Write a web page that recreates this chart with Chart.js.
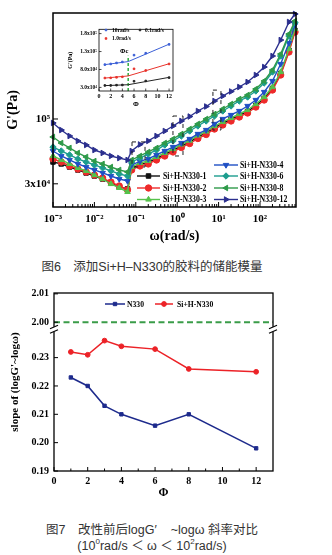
<!DOCTYPE html>
<html><head><meta charset="utf-8">
<script src="https://cdn.jsdelivr.net/npm/chart.js@4/dist/chart.umd.min.js"></script>
<style>
body{margin:0;background:#fff;width:332px;height:555px;overflow:hidden;position:relative}
canvas{position:absolute}
#c1{left:0;top:0;width:332px;height:245px}
#cin{left:62px;top:24px;width:116px;height:86px}
#c2{left:0;top:280px;width:332px;height:222px}
.cap{position:absolute;left:0;width:304px;text-align:center;font-family:'Liberation Sans','Noto Sans CJK SC',sans-serif;color:#333;font-size:12.5px;line-height:16px;white-space:nowrap}
.cap sup{font-size:8px;vertical-align:6px;line-height:0}
</style></head><body>
<canvas id="c1" width="332" height="245"></canvas>
<canvas id="cin" width="116" height="86"></canvas>
<div class="cap" style="top:259px">图6　添加Si+H–N330的胶料的储能模量</div>
<canvas id="c2" width="332" height="222"></canvas>
<div class="cap" style="top:522px">图7　改性前后logG′&nbsp;&nbsp;&nbsp;&nbsp;~logω 斜率对比</div>
<div class="cap" style="top:538px">(10<sup>0</sup>rad/s ＜ ω ＜ 10<sup>2</sup>rad/s)</div>
<script>
// ---------- Figure 6 data: storage modulus G' (Pa) vs angular frequency ----------
const omega = [0.001,0.00158,0.00251,0.00398,0.00631,0.01,0.0158,0.0251,0.0398,0.0631,
  0.0794,0.126,0.2,0.316,0.501,0.794,1.26,2,3.16,5.01,7.94,12.6,20,31.6,50.1,79.4,126,200,316,501,700];
const g1 = [45000,43400,41000,38800,36700,34700,32800,30500,28300,27300,
  39900,43000,44600,48000,51700,55700,60600,65200,71600,77100,85300,92000,99100,106700,115000,128400,146300,176200,232800,357000,517000];
const g2 = [47600,45000,41800,39500,37400,35300,33400,31000,28800,26800,
  38800,41800,43400,46700,50300,54200,58900,63400,69600,75000,83000,89500,96400,103800,111800,124900,142300,171300,226400,347000,503000];
const g3 = [50300,46700,43400,40300,38100,35300,32800,29900,27800,25800,
  41000,44200,45900,49400,53200,57300,62300,67000,73600,79300,87700,94600,101900,109700,118200,132000,150400,181100,239300,367000,532000];
const g4 = [55200,50300,46700,43400,41000,38800,36700,34700,32800,31600,
  42600,45500,47600,51300,55200,59400,64000,69000,75700,81500,91200,100000,107700,116000,127300,142300,165100,202500,277700,410000,573000];
const g6 = [59400,55200,51300,47600,45000,42600,40300,38100,36000,34700,
  45000,48400,52200,56200,61700,66500,72900,80000,87800,96400,105700,116000,127300,139700,150400,168200,195100,239300,322100,467000,600000];
const g8 = [71600,64000,58400,53200,49400,45800,43400,41000,38800,37400,
  46700,50300,54200,58400,64000,69000,75700,83000,91200,100000,109700,120400,132100,144900,156100,174600,202500,248400,334300,484600,617000];
const g12 = [92900,81500,72900,66500,61700,56200,53200,50300,48400,46700,
  55200,62300,66500,72900,80000,87800,96400,104700,116000,126100,139700,153300,166700,181100,198800,226400,262600,322100,433500,605800,703000];
const mainXTicks = [0.001,0.01,0.1,1,10,100];
const mainYTicks = [30000,100000];
// dashed highlight boxes [ωmin, ωmax, G'min, G'max]
const highlightBoxes = [[0.081,0.167,41000,65300],[0.79,1.38,50300,105700],[7.3,11.4,81500,171000]];

// ---------- inset: G' vs filler fraction at three frequencies ----------
const insetPhi = [1,2,3,4,6,8,12];
const inset10 = [93500,95400,98200,100900,120000,125400,150000];
const inset1 = [56200,56700,58100,59500,81800,77200,95400];
const inset01 = [35500,35500,36300,36800,47200,48000,57300];
const fitPhi = [1,5,12];
const fit10 = [93500,102000,150500];
const fit1 = [56000,62000,96000];
const fit01 = [35000,37500,58000];
const phiC = 5, phiCLine = [20000,118000];
const insetYTicks = [30000,80000,130000,180000];
const insetXTicks = [0,2,4,6,8,10,12];

// ---------- Figure 7 data: slope of logG'~logω ----------
const phi = [1,2,3,4,6,8,12];
const slopeN330 = [0.223,0.220,0.213,0.210,0.206,0.210,0.198];
const slopeSiH  = [0.232,0.231,0.236,0.234,0.233,0.226,0.225];
const refSlope = 2.00;
const slopeTicks = [0.19,0.20,0.21,0.22,0.23,2.00,2.01];
const phiTicks = [0,2,4,6,8,10,12];

// broken y axis: lower segment up to breakLow, upper segment starts at breakHigh
const breakLow = 0.24, breakHigh = 1.9975, upperTop = 2.0103;
const brk = v => v <= breakLow ? v : breakLow + (v - breakHigh);
const unbrk = d => d <= breakLow + 1e-9 ? d : d - breakLow + breakHigh;

const pts = (xs, ys, f) => xs.map((x,i)=>({x, y: f ? f(ys[i]) : ys[i]}));
const SUP = {'-':'⁻','0':'⁰','1':'¹','2':'²','3':'³','4':'⁴','5':'⁵','6':'⁶','7':'⁷','8':'⁸','9':'⁹'};
const sup = n => String(n).split('').map(c=>SUP[c]).join('');
const SERIF = "'Liberation Serif','Times New Roman',serif";
Chart.defaults.font.family = SERIF;
Chart.defaults.font.weight = 'bold';
Chart.defaults.color = '#000';
const noGrid = {display:false, drawTicks:false, tickLength:0};

const framePlugin = {
  id:'frame',
  afterDatasetsDraw(chart, args, o){
    const {ctx, chartArea:a} = chart;
    const xs = chart.scales.x, ys = chart.scales.y;
    ctx.save();
    ctx.strokeStyle = '#000';
    const ln = (x1,y1,x2,y2)=>{ctx.beginPath();ctx.moveTo(x1,y1);ctx.lineTo(x2,y2);ctx.stroke();};
    if (o.boxes){
      ctx.save(); ctx.strokeStyle='#222'; ctx.lineWidth=1; ctx.setLineDash([4,5]);
      o.boxes.forEach(b=>{
        const x1=xs.getPixelForValue(b[0]), x2=xs.getPixelForValue(b[1]);
        const y1=ys.getPixelForValue(b[3]), y2=ys.getPixelForValue(b[2]);
        ctx.strokeRect(x1,y1,x2-x1,y2-y1);
      });
      ctx.restore();
    }
    ctx.lineWidth = o.tw || 1;
    (o.xMajor||[]).forEach(v=>{const p=xs.getPixelForValue(v); ln(p,a.bottom,p,a.bottom-o.major);});
    (o.xMinor||[]).forEach(v=>{const p=xs.getPixelForValue(v); ln(p,a.bottom,p,a.bottom-o.minor);});
    (o.yMajor||[]).forEach(v=>{const p=ys.getPixelForValue(v); ln(a.left,p,a.left+o.major,p);});
    (o.yMinor||[]).forEach(v=>{const p=ys.getPixelForValue(v); ln(a.left,p,a.left+o.minor,p);});
    ctx.lineWidth = o.lw;
    ctx.strokeRect(a.left,a.top,a.right-a.left,a.bottom-a.top);
    if (o.breakAt !== undefined){
      const y = ys.getPixelForValue(o.breakAt);
      [a.left,a.right].forEach(x=>{
        ctx.fillStyle='#fff'; ctx.fillRect(x-3,y-2.5,6,5);
        ctx.lineWidth=1.2;
        ln(x-4,y-0.5,x+4,y-4); ln(x-4,y+4,x+4,y+0.5);
      });
    }
    ctx.restore();
  }
};

const legendPlugin = {
  id:'clegend',
  afterDraw(chart, args, o){
    if(!o.items) return;
    const ctx = chart.ctx;
    ctx.save();
    ctx.textBaseline = 'middle';
    ctx.textAlign = 'left';
    o.items.forEach(it=>{
      const ds = chart.data.datasets.find(d=>d.label===it.label);
      ctx.strokeStyle = ds.borderColor; ctx.fillStyle = ds.backgroundColor;
      if (it.half>0){
        ctx.lineWidth = ds.borderWidth;
        ctx.beginPath(); ctx.moveTo(it.x-it.half,it.y); ctx.lineTo(it.x+it.half,it.y); ctx.stroke();
      }
      ctx.lineWidth = 1;
      Chart.helpers.drawPoint(ctx,{pointStyle:ds.pointStyle,radius:ds.pointRadius,rotation:ds.pointRotation||0,borderWidth:1},it.x,it.y);
      ctx.fillStyle = '#000';
      ctx.font = o.font;
      ctx.save();
      ctx.translate(it.x+it.half+it.gap, it.y+0.5);
      ctx.scale(o.sx||1, 1);
      ctx.fillText(it.label, 0, 0);
      ctx.restore();
    });
    (o.texts||[]).forEach(t=>{
      const x = chart.scales.x.getPixelForValue(t.x)+t.dx, y = chart.scales.y.getPixelForValue(t.y)+t.dy;
      ctx.font = t.font; ctx.fillStyle='#000'; ctx.textAlign='center';
      ctx.fillText(t.text,x,y);
    });
    ctx.restore();
  }
};

// ---------- Figure 6 main chart ----------
const mkDs = (label, data, color, style, rot) => ({
  label, data: pts(omega, data), borderColor: color, backgroundColor: color,
  borderWidth: 1.4, pointStyle: style, pointRotation: rot||0, pointRadius: 3.2,
  pointBorderWidth: 1, tension: 0, clip: false
});
const minorsMain = [];
for (let e=-3;e<=2;e++) for (let m=2;m<=9;m++){ const v=m*Math.pow(10,e); if(v<741) minorsMain.push(v); }

new Chart(document.getElementById('c1'), {
  type:'line',
  data:{ datasets:[
    mkDs('Si+H-N330-12', g12, '#2b2f8e', 'triangle', 90),
    mkDs('Si+H-N330-8',  g8,  '#2e9a49', 'triangle', 270),
    mkDs('Si+H-N330-6',  g6,  '#1c9d8e', 'rectRot', 0),
    mkDs('Si+H-N330-4',  g4,  '#1f4fc4', 'triangle', 180),
    mkDs('Si+H-N330-3',  g3,  '#55c24b', 'triangle', 0),
    mkDs('Si+H-N330-2',  g2,  '#ee2a2a', 'circle', 0),
    mkDs('Si+H-N330-1',  g1,  '#111111', 'rect', 0)
  ]},
  options:{
    responsive:false, maintainAspectRatio:false, animation:false,
    layout:{padding:{top:13,right:36,left:0,bottom:0}},
    plugins:{ legend:{display:false}, tooltip:{enabled:false},
      frame:{lw:1.5, tw:1, major:5, minor:3, xMajor:mainXTicks, xMinor:minorsMain, yMajor:mainYTicks, boxes:highlightBoxes},
      clegend:{ font:"bold 9.5px "+SERIF, sx:0.82, items:[
        {label:'Si+H-N330-1', x:148.5, y:176, half:11.5, gap:3},
        {label:'Si+H-N330-2', x:148.5, y:188, half:11.5, gap:3},
        {label:'Si+H-N330-3', x:148.5, y:199.5, half:11.5, gap:3},
        {label:'Si+H-N330-4', x:226, y:165, half:12, gap:2},
        {label:'Si+H-N330-6', x:226, y:176, half:12, gap:2},
        {label:'Si+H-N330-8', x:226, y:188, half:12, gap:2},
        {label:'Si+H-N330-12', x:226, y:199.5, half:12, gap:2}
      ]}
    },
    scales:{
      x:{ type:'logarithmic', min:0.001, max:741,
        grid:noGrid, border:{display:false},
        afterFit(s){ s.height = 38; },
        afterBuildTicks(s){ s.ticks = mainXTicks.map(v=>({value:v})); },
        ticks:{ autoSkip:false, maxRotation:0, padding:6, font:{size:11,weight:'bold'},
          callback:v=>'10'+sup(Math.round(Math.log10(v))) },
        title:{display:true, text:'ω(rad/s)', font:{size:14,weight:'bold'}, padding:{top:0,bottom:0}}
      },
      y:{ type:'logarithmic', min:19500, max:716000,
        grid:noGrid, border:{display:false},
        afterFit(s){ s.width = 53; },
        afterBuildTicks(s){ s.ticks = mainYTicks.map(v=>({value:v})); },
        ticks:{ autoSkip:false, padding:3, font:{size:11,weight:'bold'},
          callback:v=>{ const e=Math.floor(Math.log10(v)+1e-9); const m=Math.round(v/Math.pow(10,e)); return (m===1?'':m+'x')+'10'+sup(e); } },
        title:{display:true, text:"G'(Pa)", font:{size:14,weight:'bold'}, padding:{top:4.5,bottom:0}}
      }
    }
  },
  plugins:[framePlugin, legendPlugin]
});

// ---------- inset ----------
const insetPts = (label, data, color) => ({label, data: pts(insetPhi, data), showLine:false,
  borderColor:color, backgroundColor:color, pointStyle:'rect', pointRadius:1.1, borderWidth:1});
const fitLine = (label, data, color) => ({label, data: pts(fitPhi, data), borderColor:color,
  backgroundColor:color, borderWidth:1, pointRadius:0});
new Chart(document.getElementById('cin'), {
  type:'line',
  data:{ datasets:[
    insetPts('10rad/s', inset10, '#3b5fd6'),
    insetPts('1.0rad/s', inset1, '#e8322b'),
    insetPts('0.1rad/s', inset01, '#222222'),
    fitLine('fit10', fit10, '#3b5fd6'),
    fitLine('fit1', fit1, '#e8322b'),
    fitLine('fit01', fit01, '#222222'),
    {label:'Φc', data: pts([phiC,phiC], phiCLine), borderColor:'#3cb04a', borderDash:[3,2], borderWidth:1.6, pointRadius:0}
  ]},
  options:{
    responsive:false, maintainAspectRatio:false, animation:false,
    layout:{padding:{top:4,right:3,left:0,bottom:0}},
    plugins:{ legend:{display:false}, tooltip:{enabled:false},
      frame:{lw:0.8, tw:0.7, major:2.5, minor:1.5, xMajor:insetXTicks, yMajor:insetYTicks},
      clegend:{ font:"bold 5.5px "+SERIF, items:[
        {label:'10rad/s', x:44, y:6, half:0, gap:6},
        {label:'0.1rad/s', x:78, y:6, half:0, gap:5},
        {label:'1.0rad/s', x:44, y:14.5, half:0, gap:6}
      ], texts:[{text:'Φc', x:phiC, y:phiCLine[1], dx:-4, dy:-5, font:"bold 6.5px "+SERIF}]}
    },
    scales:{
      x:{ type:'linear', min:0, max:12.67, grid:noGrid, border:{display:false},
        afterFit(s){ s.height = 19; },
        afterBuildTicks(s){ s.ticks = insetXTicks.map(v=>({value:v})); },
        ticks:{ autoSkip:false, maxRotation:0, padding:2, font:{size:6,weight:'bold'} },
        title:{display:true, text:'Φ', font:{size:7,weight:'bold'}, padding:{top:0,bottom:1.8}}
      },
      y:{ type:'linear', min:20000, max:192000, grid:noGrid, border:{display:false},
        afterFit(s){ s.width = 37; },
        afterBuildTicks(s){ s.ticks = insetYTicks.map(v=>({value:v})); },
        ticks:{ autoSkip:false, padding:2, font:{size:5.5,weight:'bold'},
          callback:v=>{ const e=Math.floor(Math.log10(v)+1e-9); return (v/Math.pow(10,e)).toFixed(1)+'x10'+sup(e); } },
        title:{display:true, text:"G'(Pa)", font:{size:6,weight:'bold'}, padding:{top:4.5,bottom:0}}
      }
    }
  },
  plugins:[framePlugin, legendPlugin]
});

// ---------- Figure 7 ----------
new Chart(document.getElementById('c2'), {
  type:'line',
  data:{ datasets:[
    {label:'N330', data: pts(phi, slopeN330), borderColor:'#1d2a8c', backgroundColor:'#1d2a8c',
      borderWidth:1.5, pointStyle:'rect', pointRadius:2.4, pointBorderWidth:1},
    {label:'Si+H-N330', data: pts(phi, slopeSiH), borderColor:'#ec2227', backgroundColor:'#ec2227',
      borderWidth:1.5, pointStyle:'circle', pointRadius:2.4, pointBorderWidth:1},
    {label:'ref', data: pts([0,13],[refSlope,refSlope], brk), borderColor:'#3a9c48',
      borderDash:[6,3.5], borderWidth:2, pointRadius:0}
  ]},
  options:{
    responsive:false, maintainAspectRatio:false, animation:false,
    layout:{padding:{top:13,right:59,left:0,bottom:0}},
    plugins:{ legend:{display:false}, tooltip:{enabled:false},
      frame:{lw:1.3, tw:1, major:4, minor:2.5, xMajor:phiTicks, xMinor:[1,3,5,7,9,11],
        yMajor:slopeTicks.map(brk), breakAt: breakLow},
      clegend:{ font:"bold 9px "+SERIF, sx:0.85, items:[
        {label:'N330', x:115, y:24, half:10, gap:2},
        {label:'Si+H-N330', x:164, y:24, half:9, gap:4}
      ]}
    },
    scales:{
      x:{ type:'linear', min:0, max:13, grid:noGrid, border:{display:false},
        afterFit(s){ s.height = 31; },
        afterBuildTicks(s){ s.ticks = phiTicks.map(v=>({value:v})); },
        ticks:{ autoSkip:false, maxRotation:0, padding:4, font:{size:10,weight:'bold'} },
        title:{display:true, text:'Φ', font:{size:12,weight:'bold'}, padding:{top:0,bottom:1.8}}
      },
      y:{ type:'linear', min:0.19, max:brk(upperTop), grid:noGrid, border:{display:false},
        afterFit(s){ s.width = 54; },
        afterBuildTicks(s){ s.ticks = slopeTicks.map(v=>({value:brk(v)})); },
        ticks:{ autoSkip:false, padding:5, font:{size:10,weight:'bold'},
          callback:v=>unbrk(v).toFixed(2) },
        title:{display:true, text:"slope of (logG'~logω)", font:{size:11,weight:'bold'}, padding:{top:8.4,bottom:0}}
      }
    }
  },
  plugins:[framePlugin, legendPlugin]
});
</script>
</body></html>
